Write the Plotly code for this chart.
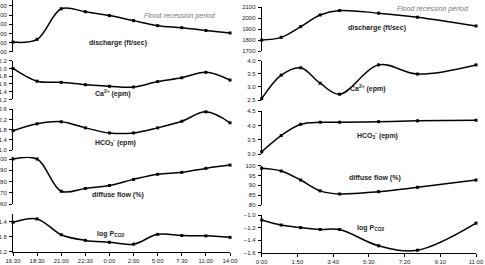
import plotly.graph_objects as go

# ---------------- data ----------------
left_time_labels = ["16:30", "18:30", "21:00", "22:30", "0:00", "2:00", "5:00", "7:30", "11:00", "14:00"]
left_x = list(range(len(left_time_labels)))
left_discharge = [1710, 1770, 2440, 2375, 2290, 2180, 2070, 2025, 1965, 1910]
left_ca = [2.00, 1.67, 1.64, 1.58, 1.54, 1.52, 1.66, 1.76, 1.90, 1.70]
left_hco3 = [1.76, 2.03, 2.11, 1.87, 1.67, 1.67, 1.87, 2.13, 2.50, 2.07]
left_diffuse = [100, 100, 71.5, 74, 76.6, 82, 86.5, 88.2, 91.7, 94.6]
left_pco2 = [-1.42, -1.33, -1.75, -1.90, -1.95, -2.00, -1.74, -1.77, -1.78, -1.82]

right_minutes = [0, 60, 120, 180, 240, 360, 480, 660]
right_tick_vals = [0, 110, 220, 330, 440, 550, 660]
right_tick_labels = ["0:00", "1:50", "3:40", "5:30", "7:20", "9:10", "11:00"]
right_discharge = [1800, 1825, 1923, 2030, 2070, 2046, 2009, 1929]
right_ca = [2.55, 3.45, 3.73, 3.14, 2.72, 3.84, 3.49, 3.84]
right_hco3 = [3.09, 3.65, 4.04, 4.11, 4.11, 4.13, 4.16, 4.18]
right_diffuse = [98.7, 97.3, 92.7, 87.2, 85.6, 86.8, 89.0, 92.7]
right_pco2 = [-1.08, -1.16, -1.20, -1.23, -1.23, -1.49, -1.56, -1.13]

W, H = 485, 265
FONT = "Liberation Sans, Arial, sans-serif"

def fx(px):
    return px / W

def fy(py):
    return 1 - py / H

fig = go.Figure()

left_series = [left_discharge, left_ca, left_hco3, left_diffuse, left_pco2]
right_series = [right_discharge, right_ca, right_hco3, right_diffuse, right_pco2]

# (tick range lo, tick range hi), dtick, pixel of lo, pixel of hi, extra headroom (data units)
left_y = [
    ([1500, 2500], 200, 51.7, 6.0, 130),
    ([1.2, 2.2], 0.2, 99.4, 60.7, 0.0),
    ([1.0, 2.6], 0.4, 150.0, 109.3, 0.0),
    ([60, 100], 10, 204.3, 159.0, 2.0),
    ([-2.2, -1.2], 0.4, 251.7, 214.0, 0.0),
]
right_y = [
    ([1700, 2100], 100, 51.0, 7.3, 0),
    ([2.5, 4.0], 0.5, 100.0, 60.7, 0.0),
    ([3.0, 4.5], 0.5, 154.3, 111.0, 0.0),
    ([80, 100], 5, 205.0, 165.7, 0.0),
    ([-1.6, -1.0], 0.2, 252.7, 215.0, 0.0),
]

line_style = dict(color="black", width=1.5, shape="spline", smoothing=1.0)
marker_style = dict(color="black", size=3, symbol="square")
tick_font = dict(family=FONT, size=6, color="#222")

layout_axes = {}
n = 0
for xs, series, yspecs, xname in [
        (left_x, left_series, left_y, "x"),
        (right_minutes, right_series, right_y, "x2")]:
    for vals, spec in zip(series, yspecs):
        n += 1
        yname = "y" if n == 1 else f"y{n}"
        fig.add_trace(go.Scatter(x=xs, y=vals, mode="lines+markers",
                                 line=line_style, marker=marker_style,
                                 xaxis=xname, yaxis=yname, cliponaxis=False,
                                 showlegend=False, hoverinfo="skip"))
        rng, dt, pb, pt, head = spec
        scale = (pb - pt) / (rng[1] - rng[0])
        top_px = pt - head * scale
        key = "yaxis" if n == 1 else f"yaxis{n}"
        layout_axes[key] = dict(
            domain=[fy(pb), min(1.0, fy(top_px))], range=[rng[0], rng[1] + head],
            dtick=dt, tick0=rng[0],
            anchor=xname, showline=True, linecolor="black", linewidth=1,
            ticks="outside", ticklen=3, tickwidth=1, tickcolor="black",
            showgrid=False, zeroline=False, automargin=False,
            ticklabeloverflow="allow", ticklabelstandoff=1,
            tickfont=tick_font,
            tickformat=".1f" if dt < 1 else "d",
        )

layout_axes["xaxis"] = dict(
    domain=[fx(13), fx(230)], range=[0, 9], anchor="y5",
    tickvals=left_x, ticktext=left_time_labels,
    showline=True, linecolor="black", linewidth=1,
    ticks="outside", ticklen=3, tickcolor="black",
    showgrid=False, zeroline=False, automargin=False,
    ticklabeloverflow="allow", tickfont=tick_font,
)
layout_axes["xaxis2"] = dict(
    domain=[fx(261.7), fx(476)], range=[0, 660], anchor="y10",
    tickvals=right_tick_vals, ticktext=right_tick_labels,
    showline=True, linecolor="black", linewidth=1,
    ticks="outside", ticklen=3, tickcolor="black",
    showgrid=False, zeroline=False, automargin=False,
    ticklabeloverflow="allow", tickfont=tick_font,
)

labels_left = [
    ("discharge (ft/sec)", 118, 43),
    ("Ca<sup>2+</sup> (epm)", 113, 94),
    ("HCO<sub>3</sub><sup>-</sup> (epm)", 115, 142),
    ("diffuse flow (%)", 118, 195),
    ("log P<sub>CO2</sub>", 110, 234),
]
labels_right = [
    ("discharge (ft/sec)", 377, 28),
    ("Ca<sup>2+</sup> (epm)", 368, 89),
    ("HCO<sub>3</sub><sup>-</sup> (epm)", 377, 135),
    ("diffuse flow (%)", 375, 178),
    ("log P<sub>CO2</sub>", 370, 228),
]
annotations = []
for text, px, py in labels_left + labels_right:
    annotations.append(dict(text=f"<b>{text}</b>", x=fx(px), y=fy(py),
                            xref="paper", yref="paper", showarrow=False,
                            xanchor="center", yanchor="middle",
                            font=dict(family=FONT, size=7, color="#222")))
for px, py in [(180, 16), (433, 9)]:
    annotations.append(dict(text="<i>Flood recession period</i>", x=fx(px), y=fy(py),
                            xref="paper", yref="paper", showarrow=False,
                            xanchor="center", yanchor="middle",
                            font=dict(family=FONT, size=7, color="#777")))

fig.update_layout(
    width=W, height=H, margin=dict(l=0, r=0, t=0, b=0),
    paper_bgcolor="white", plot_bgcolor="white",
    annotations=annotations, **layout_axes,
)

fig.write_html("out.html")
